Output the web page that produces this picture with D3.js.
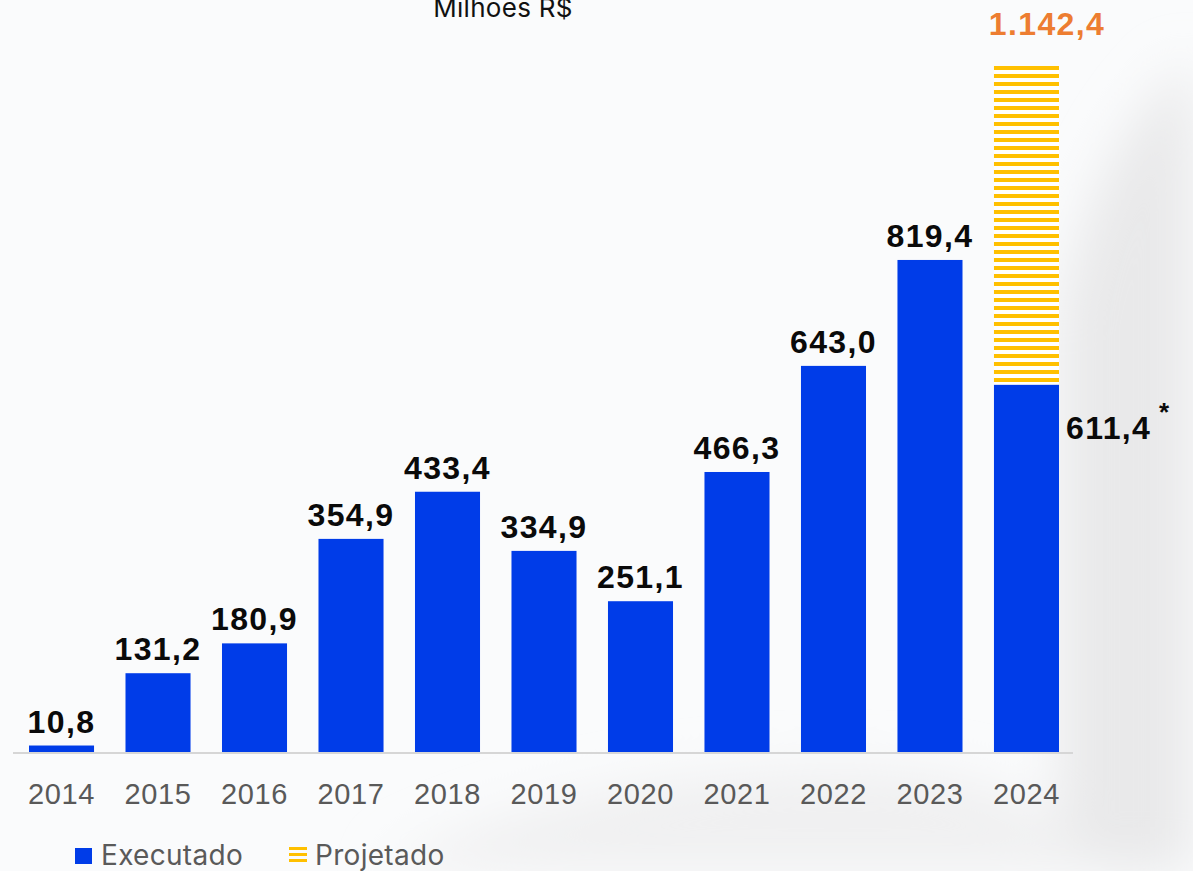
<!DOCTYPE html>
<meta charset="utf-8">
<style>
body { margin: 0; background: #fafbfc; overflow: hidden; }
svg { display: block; }
.val { font-family: "Liberation Sans", Arial, sans-serif; font-weight: bold; font-size: 32px; letter-spacing: 1.4px; fill: #0a0a0a; }
.year { font-family: "Liberation Sans", Arial, sans-serif; font-size: 29px; letter-spacing: 0.6px; fill: #595959; }
.leg { font-family: Inter, "Noto Sans", sans-serif; font-size: 28px; letter-spacing: 0.3px; fill: #5a5a5a; }
</style>
<svg width="1193" height="871"></svg>
<script src="https://d3js.org/d3.v7.min.js"></script>
<script>

var years = ["2014","2015","2016","2017","2018","2019","2020","2021","2022","2023","2024"];
var executado = [10.8, 131.2, 180.9, 354.9, 433.4, 334.9, 251.1, 466.3, 643.0, 819.4, 611.4];
var projetadoTotal = 1142.4;   // 2024, executado + projetado
var labels = ["10,8","131,2","180,9","354,9","433,4","334,9","251,1","466,3","643,0","819,4","611,4"];

var svg = d3.select("svg"),
    width = +svg.attr("width"),
    height = +svg.attr("height");

var defs = svg.append("defs");

// soft grey background shapes
var blur = defs.append("filter").attr("id", "blur")
    .attr("x", "-50%").attr("y", "-50%").attr("width", "200%").attr("height", "200%");
blur.append("feGaussianBlur").attr("stdDeviation", 25);

var stripes = defs.append("pattern")
    .attr("id", "stripes")
    .attr("patternUnits", "userSpaceOnUse")
    .attr("width", 8).attr("height", 8);
stripes.append("rect").attr("width", 8).attr("height", 8).attr("fill", "#fff");
stripes.append("rect").attr("y", 2).attr("width", 8).attr("height", 4).attr("fill", "#ffc000");

var ls = defs.append("pattern")
    .attr("id", "legstripes")
    .attr("patternUnits", "userSpaceOnUse")
    .attr("width", 18).attr("height", 6).attr("y", 847);
ls.append("rect").attr("width", 18).attr("height", 3).attr("fill", "#ffc000");

svg.append("rect").attr("width", width).attr("height", height).attr("fill", "#fafbfc");

var bg = svg.append("g").attr("filter", "url(#blur)");
bg.append("path")
    .attr("d", "M1193,60 C1130,110 1080,200 1060,320 L1060,871 L1193,871 Z")
    .attr("fill", "#e9e9ea");
bg.append("path")
    .attr("d", "M380,871 C500,800 700,760 900,770 C1000,780 1050,800 1100,871 Z")
    .attr("fill", "#f0f0f1");

var x = d3.scaleBand()
    .domain(years)
    .range([29, 1059])
    .paddingInner(0.326)
    .paddingOuter(0);

var y = d3.scaleLinear()
    .domain([0, projetadoTotal])
    .range([752, 66]);

// title (partly cut at the top, as in the source)
svg.append("text")
    .attr("class", "leg")
    .attr("x", 503).attr("y", 17)
    .attr("text-anchor", "middle")
    .style("font-size", "26px")
    .style("fill", "#111")
    .text("Milhões R$");

// projected part of 2024
svg.append("rect")
    .attr("x", x("2024"))
    .attr("y", y(projetadoTotal))
    .attr("width", x.bandwidth())
    .attr("height", y(executado[10]) - y(projetadoTotal) - 1)
    .attr("fill", "url(#stripes)");

svg.append("g")
  .selectAll("rect")
  .data(executado)
  .enter().append("rect")
    .attr("x", function(d, i) { return x(years[i]); })
    .attr("y", function(d) { return y(d); })
    .attr("width", x.bandwidth())
    .attr("height", function(d) { return y(0) - y(d); })
    .attr("fill", "#003ce8");

// baseline
svg.append("line")
    .attr("x1", 13).attr("x2", 1073)
    .attr("y1", y(0) + 1).attr("y2", y(0) + 1)
    .attr("stroke", "#d6d6d6")
    .attr("stroke-width", 2);

// value labels
svg.append("g")
  .selectAll("text")
  .data(executado.slice(0, 10))
  .enter().append("text")
    .attr("class", "val")
    .attr("x", function(d, i) { return x(years[i]) + x.bandwidth() / 2; })
    .attr("y", function(d) { return y(d) - 13; })
    .attr("text-anchor", "middle")
    .text(function(d, i) { return labels[i]; });

svg.append("text")
    .attr("class", "val")
    .attr("x", x("2024") + x.bandwidth() + 7)
    .attr("y", y(executado[10]) + 54)
    .text(labels[10]);

svg.append("text")
    .attr("class", "val")
    .attr("x", 1159).attr("y", 421)
    .style("font-size", "26px")
    .text("*");

svg.append("text")
    .attr("class", "val")
    .attr("x", 1047).attr("y", 35)
    .attr("text-anchor", "middle")
    .style("fill", "#ed7d31")
    .text("1.142,4");

// x axis labels
var xAxis = d3.axisBottom(x).tickSize(0).tickPadding(0);
var ax = svg.append("g")
    .attr("transform", "translate(0,779)")
    .call(xAxis);
ax.select(".domain").remove();
ax.selectAll("text")
    .attr("class", "year")
    .attr("fill", null)
    .attr("dy", "0.87em")
    .style("font-family", null)
    .style("font-size", null);

// legend
var leg = svg.append("g");
leg.append("rect").attr("x", 75).attr("y", 848).attr("width", 17).attr("height", 16).attr("fill", "#003ce8");
leg.append("text").attr("class", "leg").attr("x", 101).attr("y", 865).text("Executado");
leg.append("rect").attr("x", 289).attr("y", 847).attr("width", 18).attr("height", 17).attr("fill", "url(#legstripes)");
leg.append("text").attr("class", "leg").attr("x", 315).attr("y", 865).text("Projetado");

</script>
